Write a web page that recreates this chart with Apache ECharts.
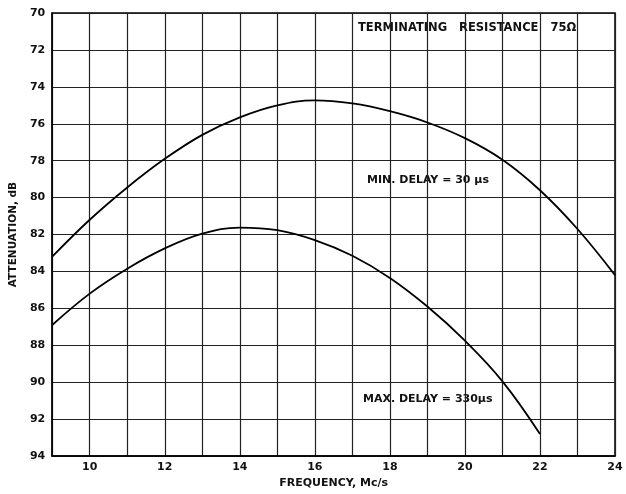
<!DOCTYPE html>
<html>
<head>
<meta charset="utf-8">
<script src="https://cdn.jsdelivr.net/npm/echarts@6/dist/echarts.min.js"></script>
<style>html,body{margin:0;padding:0;background:#fff}#c{width:626px;height:494px}</style>
</head>
<body>
<div id="c"></div>
<script>
var freqMin = [9, 10, 11, 12, 13, 14, 15, 16, 17, 18, 19, 20, 21, 22, 23, 24];
var attenMin = [83.2, 81.2, 79.45, 77.9, 76.6, 75.65, 75.0, 74.73, 74.9, 75.32, 75.93, 76.78, 77.95, 79.6, 81.7, 84.2];
var freqMax = [9, 10, 11, 12, 13, 14, 15, 16, 17, 18, 19, 20, 21, 22];
var attenMax = [86.9, 85.2, 83.85, 82.75, 81.95, 81.62, 81.76, 82.3, 83.15, 84.35, 85.9, 87.75, 89.95, 92.8];
var yTicks = [70, 72, 74, 76, 78, 80, 82, 84, 86, 88, 90, 92, 94];
var xTicks = [10, 12, 14, 16, 18, 20, 22, 24];

var font = 'DejaVu Sans';
var chart = echarts.init(document.getElementById('c'), null, {renderer: 'canvas'});
function pairs(xs, ys) { return xs.map(function (x, i) { return [x, ys[i]]; }); }
chart.setOption({
  animation: false,
  backgroundColor: '#fff',
  grid: {left: 52, right: 11, top: 13, bottom: 31, show: true, borderColor: '#000', borderWidth: 1.5},
  xAxis: {
    type: 'value', min: 9, max: 24, interval: 1,
    name: 'FREQUENCY, Mc/s', nameLocation: 'middle', nameGap: 21,
    nameTextStyle: {fontFamily: font, fontWeight: 'bold', fontSize: 11, color: '#111'},
    axisLine: {show: true, lineStyle: {color: '#000', width: 1.5}},
    axisTick: {show: false},
    axisLabel: {fontFamily: font, fontWeight: 'bold', fontSize: 11, color: '#111', margin: 6,
      formatter: function (v) { return xTicks.indexOf(v) >= 0 ? String(v) : ''; }},
    splitLine: {show: true, lineStyle: {color: '#222', width: 1.2}}
  },
  yAxis: {
    type: 'value', min: 70, max: 94, interval: 2, inverse: true,
    name: 'ATTENUATION, dB', nameLocation: 'middle', nameGap: 30, nameRotate: 90,
    nameTextStyle: {fontFamily: font, fontWeight: 'bold', fontSize: 10.5, color: '#111'},
    axisLine: {show: true, lineStyle: {color: '#000', width: 1.5}},
    axisTick: {show: false},
    axisLabel: {fontFamily: font, fontWeight: 'bold', fontSize: 11, color: '#111', margin: 7,
      formatter: function (v) { return yTicks.indexOf(v) >= 0 ? String(v) : ''; }},
    splitLine: {show: true, lineStyle: {color: '#222', width: 1.2}}
  },
  series: [
    {type: 'line', name: 'MIN. DELAY = 30 μs', data: pairs(freqMin, attenMin), smooth: 0.4,
      showSymbol: false, lineStyle: {color: '#000', width: 1.8}},
    {type: 'line', name: 'MAX. DELAY = 330μs', data: pairs(freqMax, attenMax), smooth: 0.4,
      showSymbol: false, lineStyle: {color: '#000', width: 1.8}}
  ],
  graphic: [
    {type: 'rect', left: 352, top: 19, shape: {width: 234, height: 19}, style: {fill: '#fff'}},
    {type: 'text', left: 358, top: 22, style: {text: 'TERMINATING   RESISTANCE   75Ω', font: 'bold 11.5px "DejaVu Sans"', fill: '#111'}},
    {type: 'rect', left: 362, top: 172, shape: {width: 136, height: 18}, style: {fill: '#fff'}},
    {type: 'text', left: 367, top: 175, style: {text: 'MIN. DELAY = 30 μs', font: 'bold 11px "DejaVu Sans"', fill: '#111'}},
    {type: 'rect', left: 358, top: 391, shape: {width: 146, height: 18}, style: {fill: '#fff'}},
    {type: 'text', left: 363, top: 394, style: {text: 'MAX. DELAY = 330μs', font: 'bold 11px "DejaVu Sans"', fill: '#111'}}
  ]
});
</script>
</body>
</html>
